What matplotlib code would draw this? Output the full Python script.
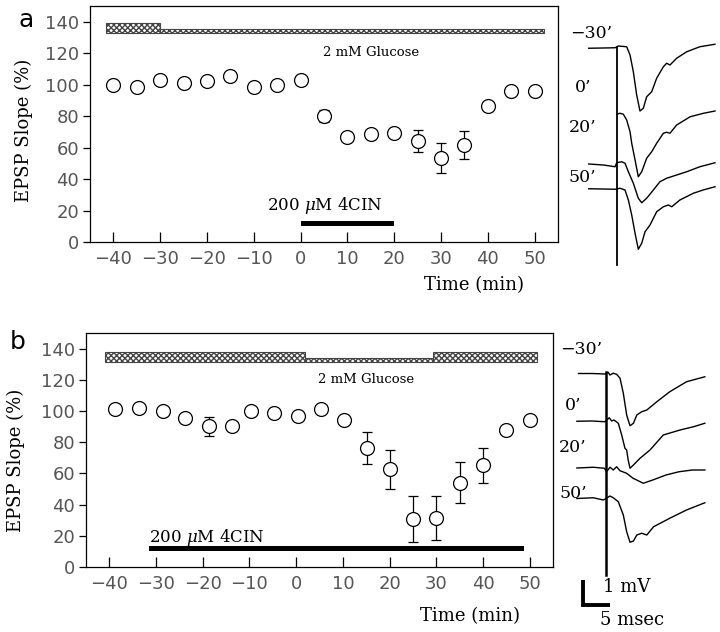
import matplotlib.pyplot as plt

plt.rcParams['mathtext.fontset'] = 'dejavuserif'
SERIF = 'DejaVu Serif'

# ---------------- data: panel a ----------------
time_a = [-40, -35, -30, -25, -20, -15, -10, -5, 0, 5, 10, 15, 20, 25, 30, 35, 40, 45, 50]
slope_a = [100, 98.3, 103, 101, 102.5, 105.7, 98.3, 99.6, 102.8, 80, 67, 68.6, 69.2,
           63.9, 53.3, 61.8, 86.6, 95.8, 95.8]
err_a = [0, 0, 0, 0, 0, 0, 0, 0, 0, 4, 0, 0, 0, 7, 9.5, 9, 0, 0, 0]
gluc_a_start = [-41.5, -30]
gluc_a_end = [-30, 52]
gluc_a_low = [False, True]
cin_a = (0, 20)

# ---------------- data: panel b ----------------
time_b = [-38.7, -33.7, -28.6, -23.8, -18.7, -13.7, -9.6, -4.7, 0.4, 5.4, 10.2, 15.1, 20,
          25, 30, 35, 40, 45, 50]
slope_b = [101, 102, 99.9, 95.6, 90.2, 90.7, 99.7, 98.8, 97.1, 101.4, 94.5, 76.2, 62.7,
           30.8, 31.3, 54.1, 65.1, 88, 94.4]
err_b = [0, 0, 0, 0, 6, 0, 0, 0, 0, 0, 0, 10.4, 12.5, 14.7, 14, 13, 11.5, 0, 0]
gluc_b_start = [-41, 1.9, 29.2]
gluc_b_end = [1.9, 29.2, 51.5]
gluc_b_low = [False, True, False]
cin_b = (-31.5, 48.7)

# ---------------- sample sweeps (ms, mV) ----------------
sweep_labels = ["\u221230\u2019", "0\u2019", "20\u2019", "50\u2019"]

a_t = [
    [-5.2, -2.5, -0.3, 0.3, 1.85, 2.47, 3.08, 3.7, 4.31, 4.93, 5.55, 6.48, 7.4, 8.64, 9.25, 9.87, 11.1, 12.96, 15.4, 18.2],
    [0, 0.62, 1.23, 1.85, 2.47, 2.78, 3.4, 4.0, 4.63, 5.55, 6.48, 7.4, 8.64, 9.25, 9.87, 11.1, 13.6, 16.1, 18.2],
    [-5.2, -2.47, -0.3, 0, 0.93, 1.54, 2.16, 3.08, 4.0, 4.63, 5.55, 6.79, 8.0, 9.25, 11.1, 12.96, 15.4, 18.2],
    [-5.2, -0.3, 0.62, 1.54, 2.16, 2.78, 3.4, 4.0, 4.63, 5.25, 6.17, 7.4, 8.64, 9.56, 10.2, 11.7, 14.2, 16.0, 18.2],
]
a_mv = [
    [0, 0.01, 0.02, 0.09, 0.06, -0.27, -0.94, -1.87, -2.51, -2.4, -1.94, -1.74, -1.2, -0.74, -0.6, -0.67, -0.4, -0.14, 0.06, 0.16],
    [0, 0.04, 0, -0.23, -0.7, -1.16, -1.83, -2.5, -2.3, -1.76, -1.5, -1.16, -0.76, -0.72, -0.76, -0.43, -0.1, 0.04, 0.13],
    [0, -0.04, -0.11, 0.05, 0.09, 0.03, -0.31, -0.77, -1.37, -1.55, -1.37, -1.04, -0.71, -0.57, -0.44, -0.31, -0.11, 0.05],
    [0, -0.02, 0.02, -0.05, -0.45, -1.05, -1.78, -2.42, -2.18, -1.72, -1.45, -0.92, -0.72, -0.65, -0.72, -0.45, -0.18, -0.05, 0.08],
]
b_t = [
    [-5.0, -2.5, -0.1, 0.5, 0.8, 1.44, 2.06, 2.69, 3.3, 3.92, 4.54, 5.17, 5.8, 6.7, 7.65, 9.5, 11.9, 15.0, 18.4],
    [-5.3, -2.5, -0.1, 0.7, 1.14, 1.56, 2.37, 3.0, 3.6, 3.92, 4.2, 4.54, 5.17, 6.4, 8.24, 10.7, 13.8, 16.3, 18.4],
    [-5.3, -2.26, -0.2, 0.2, 0.83, 1.44, 2.06, 2.69, 3.9, 5.1, 7.0, 8.75, 11.2, 13.6, 16.1, 18.4],
    [-5.3, -2.26, -0.4, 0.2, 0.83, 1.44, 2.37, 3.3, 3.92, 4.54, 5.17, 5.8, 6.7, 7.65, 8.9, 11.9, 15.0, 18.4],
]
b_mv = [
    [0, 0.0, -0.02, 0.05, -0.06, 0.01, -0.03, -0.19, -0.79, -1.66, -2.09, -1.99, -1.66, -1.53, -1.46, -1.13, -0.73, -0.33, -0.13],
    [0, 0.01, -0.02, 0.14, 0.01, 0.05, -0.08, -0.55, -1.08, -1.15, -1.55, -1.88, -1.75, -1.48, -1.15, -0.55, -0.35, -0.22, -0.08],
    [0, 0.03, -0.01, -0.15, 0.03, -0.08, 0.05, -0.11, -0.21, -0.41, -0.61, -0.48, -0.28, -0.15, -0.08, -0.08],
    [0, 0.03, -0.06, 0.01, 0.1, 0.03, -0.13, -0.66, -1.33, -1.75, -1.7, -1.46, -1.39, -1.46, -1.13, -0.79, -0.46, -0.17],
]
scale_mv = 1
scale_ms = 5

# ---------------- layout ----------------
W, H = 720, 632
fig = plt.figure(figsize=(W / 100, H / 100), dpi=100)


def px_axes(x0, y0, x1, y1):
    return fig.add_axes([x0 / W, 1 - y1 / H, (x1 - x0) / W, (y1 - y0) / H])


def time_course(ax, t, y, e, gs, ge, glow, cin, gbase, cin_text_x, cin_ha, cin_y):
    ax.errorbar(t, y, yerr=e, fmt='none', ecolor='black', elinewidth=0.9,
                capsize=3.6, capthick=0.9, zorder=2)
    ax.plot(t, y, 'o', ms=10, mfc='white', mec='black', mew=0.9, zorder=3)
    for s, en, low in zip(gs, ge, glow):
        h = 2.6 if low else 6.5
        ax.bar(s, h, width=en - s, bottom=gbase, align='edge', color='white',
               edgecolor='#444444', hatch='xxxxxx', linewidth=0.8, zorder=2)
    ax.text(15, 120.5, '2 mM Glucose', family=SERIF, fontsize=9.5, ha='center', va='center')
    ax.bar(cin[0], 3.3, width=cin[1] - cin[0], bottom=10.1, align='edge', color='black')
    ax.text(cin_text_x, cin_y, r'200 $\mu$M 4CIN', family=SERIF, fontsize=12,
            ha=cin_ha, va='center')
    ax.set_xlim(-45, 55)
    ax.set_ylim(0, 150)
    ax.set_xticks(range(-40, 51, 10))
    ax.set_yticks(range(0, 141, 20))
    ax.tick_params(axis='x', direction='in', length=7, width=0.9, pad=6,
                   labelsize=13, labelcolor='#555555')
    ax.tick_params(axis='y', direction='out', length=5, width=0.9, pad=3,
                   labelsize=13, labelcolor='#555555')
    for sp in ax.spines.values():
        sp.set_linewidth(0.9)
    ax.set_xlabel('Time (min)', family=SERIF, fontsize=13)
    ax.set_ylabel('EPSP Slope (%)', family=SERIF, fontsize=13)


ax_a = px_axes(90, 6, 558, 242)
time_course(ax_a, time_a, slope_a, err_a, gluc_a_start, gluc_a_end, gluc_a_low, cin_a,
            133, 5.1, 'center', 23.5)
ax_a.xaxis.set_label_coords(0.82, -0.145)
ax_a.yaxis.set_label_coords(-0.122, 0.475)

ax_b = px_axes(86, 333, 553, 567)
time_course(ax_b, time_b, slope_b, err_b, gluc_b_start, gluc_b_end, gluc_b_low, cin_b,
            131.3, -31.5, 'left', 18.9)
ax_b.xaxis.set_label_coords(0.822, -0.172)
ax_b.yaxis.set_label_coords(-0.131, 0.457)

fig.text(26 / W, 1 - 20 / H, 'a', fontsize=18, ha='center', va='center')
fig.text(18 / W, 1 - 342 / H, 'b', fontsize=18, ha='center', va='center')

# ---------------- sweeps ----------------
PX_MS, PX_MV = 5.4, 25.0


def sweep_axes(x0, y0, x1, y1, x_stim):
    ax = px_axes(x0, y0, x1, y1)
    ax.set_xlim((x0 - x_stim) / PX_MS, (x1 - x_stim) / PX_MS)
    ax.set_ylim(-(y1 - y0) / PX_MV, 0)
    ax.axis('off')
    return ax


sa = sweep_axes(570, 20, 720, 275, 616.7)
offs_a = [-1.13, -3.77, -5.76, -6.75]
for t, v, o in zip(a_t, a_mv, offs_a):
    sa.plot(t, [o + x for x in v], color='black', lw=1.0)
sa.plot([0, 0], [-1.08, -9.8], color='black', lw=1.3)
for lab, (tx, ty) in zip(sweep_labels, [(-4.76, -0.52), (-6.2, -2.72), (-6.4, -4.32), (-6.4, -6.28)]):
    sa.text(tx, ty, lab, family=SERIF, fontsize=12.5, ha='center', va='center')

sb = sweep_axes(560, 330, 720, 632, 605.5)
offs_b = [-1.74, -3.65, -5.52, -6.74]
for t, v, o in zip(b_t, b_mv, offs_b):
    sb.plot(t, [o + x for x in v], color='black', lw=1.0)
sb.plot([0, 0], [-1.67, -9.8], color='black', lw=1.8)
for lab, (tx, ty) in zip(sweep_labels, [(-4.54, -0.76), (-6.0, -3.0), (-6.0, -4.68), (-6.0, -6.52)]):
    sb.text(tx, ty, lab, family=SERIF, fontsize=12.5, ha='center', va='center')

# scale bar
cx, cy = -4.17, -11.0
sb.plot([cx, cx, cx + scale_ms], [cy + scale_mv, cy, cy], color='black', lw=2.8,
        solid_joinstyle='miter', solid_capstyle='butt')
sb.text(-0.46, -10.28, '%d mV' % scale_mv, family=SERIF, fontsize=13, ha='left', va='center')
sb.text(4.9, -11.6, '%d msec' % scale_ms, family=SERIF, fontsize=13, ha='center', va='center')

fig.savefig('out.png', dpi=100)
